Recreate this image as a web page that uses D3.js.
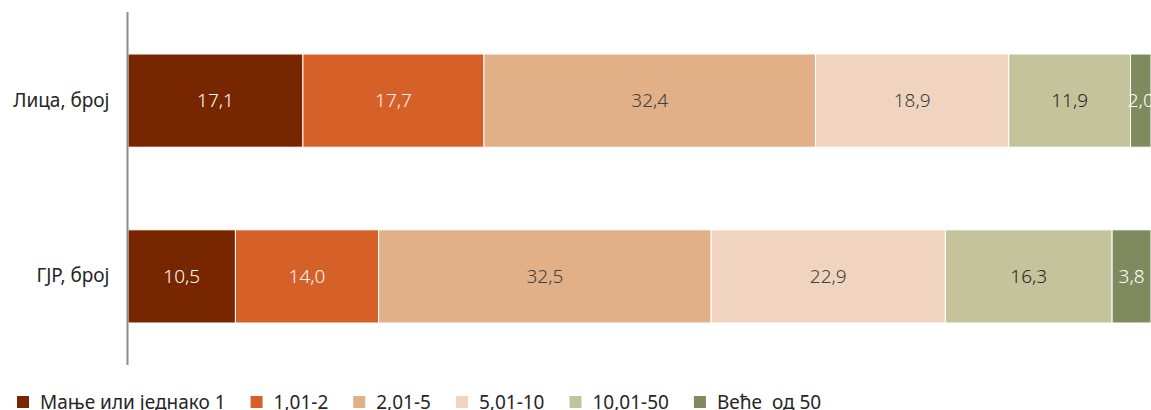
<!DOCTYPE html>
<html>
<head>
<meta charset="utf-8">
<script src="https://cdn.jsdelivr.net/npm/d3@7"></script>
<style>
  body { margin: 0; background: #fff; }
  svg { display: block; font-family: "Noto Sans", "Open Sans", sans-serif; }
</style>
</head>
<body>
<svg id="chart" width="1151" height="410"></svg>
<script>
var categories = ['Лица, број', 'ГЈР, број']
var seriesNames = ['Мање или једнако 1', '1,01-2', '2,01-5', '5,01-10', '10,01-50', 'Веће  од 50']
var seriesColors = ['#772600', '#d66128', '#e2b086', '#f0d4bf', '#c4c39b', '#7f8b5f']
var labelColors = ['#ffffff', '#f6f6f6', '#404040', '#404040', '#262626', '#ffffff']
var lica = [17.1, 17.7, 32.4, 18.9, 11.9, 2.0]
var gjr = [10.5, 14.0, 32.5, 22.9, 16.3, 3.8]
var values = [lica, gjr]

var svg = d3.select('#chart')
var x = d3.scaleLinear().domain([0, 100]).range([128, 1151])
// bars ~93px tall, ~83px apart
var y = d3.scaleBand().domain(categories).range([12, 365]).paddingInner(0.47).paddingOuter(0.239)

function fmt(v) { return v.toFixed(1).replace('.', ',') }

categories.forEach(function (cat, ci) {
    var x0 = 0
    var segs = values[ci].map(function (v, si) {
        var s = { start: x0, value: v, si: si }
        x0 += v
        return s
    })
    var g = svg.append('g')
    g.selectAll('rect')
        .data(segs)
        .enter()
        .append('rect')
        .attr('x', function (d) { return x(d.start) })
        .attr('y', y(cat))
        .attr('width', function (d) { return x(d.start + d.value) - x(d.start) })
        .attr('height', y.bandwidth())
        .style('fill', function (d) { return seriesColors[d.si] })
        .style('stroke', '#fff')
        .style('stroke-width', 1)
    g.selectAll('text')
        .data(segs)
        .enter()
        .append('text')
        .attr('x', function (d) { return (x(d.start) + x(d.start + d.value)) / 2 })
        .attr('y', y(cat) + y.bandwidth() / 2)
        .attr('dy', '0.36em')
        .attr('text-anchor', 'middle')
        .style('font-size', '19px')
        .style('font-weight', 300)
        .style('fill', function (d) { return labelColors[d.si] })
        .text(function (d) { return fmt(d.value) })
})

var yAxis = svg.append('g')
    .attr('transform', 'translate(127.5,0)')
    .call(d3.axisLeft(y).tickSize(0).tickPadding(18))
yAxis.select('.domain').attr('d', 'M0,12V365').style('stroke', '#8c8c8c').style('stroke-width', 2)
yAxis.selectAll('text').style('font-size', '19px').style('fill', '#262626').style('font-family', '"Noto Sans", sans-serif')

var legend = svg.append('g').attr('transform', 'translate(17,402)')
var lx = 0
seriesNames.forEach(function (name, i) {
    var item = legend.append('g').attr('transform', 'translate(' + lx + ',0)')
    item.append('rect').attr('x', 0).attr('y', -6).attr('width', 12).attr('height', 12)
        .style('fill', seriesColors[i])
    var t = item.append('text').attr('x', 23).attr('y', 0).attr('dy', '0.36em')
        .style('font-size', '19px').style('fill', '#262626')
        .style('white-space', 'pre')
        .text(name)
    lx += 23 + t.node().getComputedTextLength() + 25
})
</script>
</body>
</html>
